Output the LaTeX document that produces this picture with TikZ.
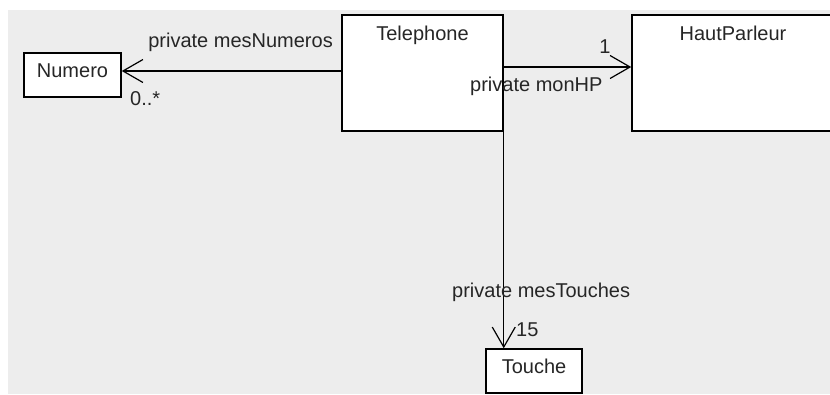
\documentclass[tikz,border=0pt]{standalone}
\usepackage{fontspec}
\setmainfont{Liberation Sans}
\usetikzlibrary{arrows.meta}
\begin{document}
\begin{tikzpicture}[x=1pt,y=-1pt,
  box/.style={draw=black,line width=1.5pt,fill=white,inner sep=0pt},
  lbl/.style={inner sep=0pt,text=black!85,font=\fontsize{20}{22}\selectfont},
  assoc/.style={line width=1.3pt,-{Straight Barb[length=20pt,width=23pt,line width=1.2pt]}}]
\useasboundingbox (0,0) rectangle (830,394);
\fill[white] (0,0) rectangle (830,394);
\fill[black!7] (8,10) rectangle (830,394);
% boxes
\node[box,minimum width=97pt,minimum height=44pt] (num) at (72.5,75) {};
\node[box,minimum width=161pt,minimum height=116pt] (tel) at (422.5,73) {};
\node[box,minimum width=204pt,minimum height=116pt] (hp) at (734,73) {};
\node[box,minimum width=96pt,minimum height=44pt] (tou) at (534,371) {};
% box titles
\node[lbl,anchor=base] (telt) at (422.5,40) {Telephone};
\node[lbl,anchor=base] (hpt) at (733,40) {HautParleur};
\node[lbl,anchor=base] (numt) at (72.5,77) {Numero};
\node[lbl,anchor=base] (tout) at (534,373) {Touche};
% connectors
\draw[assoc] ([yshift=2pt]tel.west) -- ([yshift=2pt]tel.west -| num.east);
\draw[assoc] ([yshift=6pt]tel.east) -- ([yshift=6pt]tel.east -| hp.west);
\draw[assoc] (tel.south east) -- (tel.south east |- tou.north);
% connector labels
\node[lbl,anchor=base east] (l1) at (333,47) {private mesNumeros};
\node[lbl,anchor=base west] (m1) at (130,105) {0..*};
\node[lbl,anchor=base] (m2) at (605,53) {1};
\node[lbl,anchor=base west] (l2) at (470,91) {private monHP};
\node[lbl,anchor=base west] (l3) at (452,297) {private mesTouches};
\node[lbl,anchor=base west] (m3) at (516,336) {15};
\end{tikzpicture}
\end{document}
